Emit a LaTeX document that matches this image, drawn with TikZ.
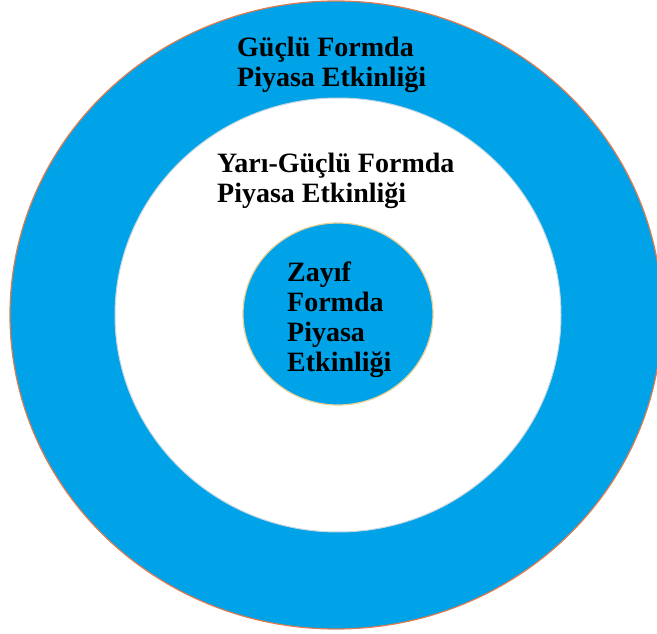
\documentclass[tikz,border=0pt]{standalone}
\usepackage{fontspec}
\setmainfont{Liberation Serif}
\usetikzlibrary{shapes.geometric}
\definecolor{ringblue}{RGB}{0,162,232}
\definecolor{rimorange}{RGB}{222,124,80}
\definecolor{rimgold}{RGB}{236,208,150}
\definecolor{rimgrey}{RGB}{196,214,224}
\begin{document}
\begin{tikzpicture}[x=1pt,y=-1pt,
  ring/.style={ellipse,inner sep=0pt,outer sep=0pt},
  label/.style={anchor=north west,inner sep=0pt,align=left,
    font=\bfseries\fontsize{28}{30}\selectfont,text=black}]
  \useasboundingbox (0,0) rectangle (657,634);
  \clip (0,0) rectangle (657,634);
  % strong form: outer blue disc
  \node[ring,fill=ringblue,draw=rimorange,line width=1.2pt,
        minimum width=652pt,minimum height=628pt] (strong) at (336,315) {};
  % semi-strong form: white band
  \node[ring,fill=white,draw=rimgrey,line width=1pt,
        minimum width=446pt,minimum height=434pt] (semi) at (338,315) {};
  % weak form: inner blue disc
  \node[ring,fill=ringblue,draw=rimgold,line width=1.2pt,
        minimum width=190pt,minimum height=182pt] (weak) at (338,314) {};
  % labels
  \node[label] (strongtext) at (237,37) {Güçlü Formda\\Piyasa Etkinliği};
  \node[label] (semitext) at (217,153) {Yarı-Güçlü Formda\\Piyasa Etkinliği};
  \node[label] (weaktext) at (287,262) {Zayıf\\Formda\\Piyasa\\Etkinliği};
\end{tikzpicture}
\end{document}
